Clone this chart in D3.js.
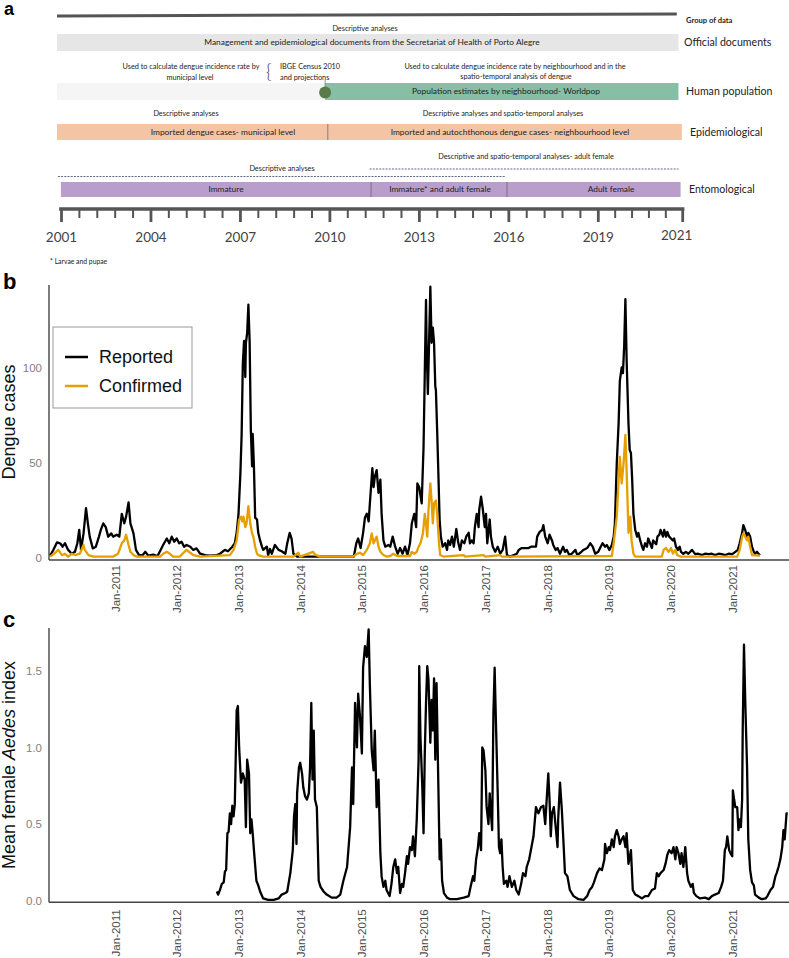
<!DOCTYPE html>
<html>
<head>
<meta charset="utf-8">
<script src="https://cdn.jsdelivr.net/npm/d3@7"></script>
<style>
  body { margin: 0; background: #fff; }
  svg { display: block; }
</style>
</head>
<body>
<div id="chart"></div>
<script>
// ---------- panel a: timeline of data sources ----------
const timelineYears = [2001, 2004, 2007, 2010, 2013, 2016, 2019, 2021];
const groupNames = ["Official documents", "Human population", "Epidemiological", "Entomological"];

// segments per row: [row, start year, end year, label]
const dataSegments = [
  [0, 2000.85, 2020.9, "Management and epidemiological documents from the Secretariat of Health of Porto Alegre"],
  [1, 2000.85, 2009.84, ""],
  [1, 2009.84, 2020.9, "Population estimates by neighbourhood- Worldpop"],
  [2, 2000.85, 2009.93, "Imported dengue cases- municipal level"],
  [2, 2009.93, 2020.98, "Imported and autochthonous dengue cases- neighbourhood level"],
  [3, 2000.98, 2011.38, "Immature"],
  [3, 2011.38, 2015.94, "Immature* and adult female"],
  [3, 2015.94, 2020.95, "Adult female"]
];
// analysis periods drawn as dashed lines: [start, end]
const analysisPeriods = [[2000.88, 2015.9], [2011.33, 2020.9]];
const censusYear = 2009.84;

// ---------- panel b: weekly dengue cases [decimal year, cases] ----------
const reportedCases = [[2009.95,1],[2010.00,4],[2010.06,8],[2010.11,7.5],[2010.15,5.7],[2010.19,7.5],[2010.24,4],[2010.30,2],[2010.35,3],[2010.39,7.5],[2010.42,14.5],[2010.45,4],[2010.49,12.7],[2010.53,26],[2010.56,18],[2010.59,11],[2010.64,4.8],[2010.69,5.7],[2010.74,11],[2010.77,14.5],[2010.81,18],[2010.85,16],[2010.89,11],[2010.94,12.7],[2010.97,11],[2011.03,12],[2011.07,11],[2011.11,23],[2011.15,18],[2011.18,21.5],[2011.22,29],[2011.25,18],[2011.30,12.7],[2011.34,4],[2011.39,1.3],[2011.45,1.3],[2011.49,3],[2011.54,1],[2011.62,1.5],[2011.69,0.8],[2011.74,4],[2011.78,6.6],[2011.84,10],[2011.88,7.5],[2011.92,11],[2011.96,8.3],[2012.00,10],[2012.04,7.5],[2012.08,8.3],[2012.12,5.7],[2012.16,6.6],[2012.22,5.7],[2012.27,4],[2012.32,4.8],[2012.38,2],[2012.46,1.3],[2012.54,1],[2012.65,1.3],[2012.70,2],[2012.78,4],[2012.83,3.3],[2012.90,5.7],[2012.94,7.5],[2012.97,13],[2013.00,23],[2013.03,44],[2013.05,64],[2013.07,102],[2013.09,114],[2013.11,95],[2013.12,113],[2013.14,118],[2013.16,133],[2013.18,114],[2013.20,67],[2013.22,48],[2013.23,65],[2013.25,48],[2013.27,21],[2013.30,20],[2013.32,13],[2013.35,9],[2013.38,5.7],[2013.40,4],[2013.46,5.7],[2013.48,1.3],[2013.51,4.5],[2013.54,2],[2013.59,6.6],[2013.65,4],[2013.70,3.3],[2013.76,2],[2013.79,7.5],[2013.83,13],[2013.86,10],[2013.89,2],[2013.95,0.5],[2014.87,0.5],[2014.91,7.5],[2014.94,10],[2014.98,5],[2015.02,13],[2015.05,21],[2015.08,23],[2015.11,19],[2015.13,28.5],[2015.17,47],[2015.19,37],[2015.21,42.5],[2015.24,46],[2015.27,34],[2015.30,41],[2015.32,23],[2015.35,9],[2015.38,5.7],[2015.43,6.6],[2015.46,5.7],[2015.50,11],[2015.54,5.7],[2015.58,2],[2015.62,5],[2015.66,2],[2015.70,5.7],[2015.74,1.3],[2015.78,7.5],[2015.81,18],[2015.85,23],[2015.88,16],[2015.90,39],[2015.93,37],[2015.97,28.5],[2016.00,58],[2016.02,97],[2016.04,135.5],[2016.05,111],[2016.07,86],[2016.09,114],[2016.11,142.5],[2016.13,113],[2016.15,121],[2016.17,113],[2016.19,90],[2016.20,88],[2016.22,67],[2016.24,44],[2016.26,20],[2016.28,11],[2016.31,5.7],[2016.35,7.5],[2016.38,4],[2016.40,9],[2016.43,6.6],[2016.46,11],[2016.49,5.7],[2016.53,15],[2016.56,8],[2016.59,4],[2016.62,9],[2016.66,7.5],[2016.69,11],[2016.73,13],[2016.75,7.5],[2016.78,9],[2016.81,7.5],[2016.83,16],[2016.86,23],[2016.89,16],[2016.90,25],[2016.93,32],[2016.96,25],[2016.99,16],[2017.01,23],[2017.03,7.5],[2017.07,20],[2017.09,11],[2017.12,5.7],[2017.16,3],[2017.20,5.7],[2017.24,2],[2017.28,4],[2017.32,11],[2017.35,1.3],[2017.40,0.5],[2017.46,1.3],[2017.51,2],[2017.54,4],[2017.59,5],[2017.65,5],[2017.70,5],[2017.74,5.7],[2017.78,5.7],[2017.82,5.7],[2017.84,11],[2017.88,13.5],[2017.92,14.5],[2017.94,17],[2017.97,11],[2018.01,7.5],[2018.04,12],[2018.08,9],[2018.10,6.6],[2018.14,4],[2018.17,5],[2018.21,2],[2018.26,5.7],[2018.29,3],[2018.32,4],[2018.36,1.3],[2018.40,2],[2018.46,4],[2018.49,1.3],[2018.54,2.5],[2018.59,4],[2018.65,5],[2018.70,7.5],[2018.74,5.7],[2018.78,2],[2018.83,3],[2018.87,5.7],[2018.90,7.5],[2018.94,5.7],[2018.97,6.6],[2019.01,4],[2019.05,6.6],[2019.08,11],[2019.10,18],[2019.13,49.5],[2019.16,70.6],[2019.18,93],[2019.21,100],[2019.23,97],[2019.25,111],[2019.27,136],[2019.29,104],[2019.32,70.6],[2019.34,56.6],[2019.36,55],[2019.38,41],[2019.40,23],[2019.43,14.5],[2019.46,11],[2019.48,13],[2019.51,9],[2019.54,5.7],[2019.56,4],[2019.59,7.5],[2019.62,5.7],[2019.64,10],[2019.67,7.5],[2019.70,5],[2019.72,9],[2019.77,7],[2019.79,11],[2019.82,12],[2019.84,14.5],[2019.88,11],[2019.90,14.5],[2019.93,11],[2019.95,13.5],[2019.98,11],[2020.01,10],[2020.04,9],[2020.06,10],[2020.09,5.7],[2020.12,4],[2020.15,5.7],[2020.17,3],[2020.21,2],[2020.25,3],[2020.29,2],[2020.35,4],[2020.40,1.8],[2020.45,2],[2020.51,1.3],[2020.56,2],[2020.62,1.8],[2020.67,2],[2020.72,1.3],[2020.78,2],[2020.83,1.8],[2020.89,1.3],[2020.94,2],[2021.00,1.8],[2021.05,3],[2021.09,4],[2021.12,7.5],[2021.16,13],[2021.18,17],[2021.21,14.5],[2021.24,11],[2021.26,13],[2021.29,11],[2021.32,5.7],[2021.35,3],[2021.37,2],[2021.40,3],[2021.43,1.8],[2021.45,1.3]];

const confirmedCases = [[2009.95,0.5],[2010.03,2.5],[2010.08,4],[2010.14,1.3],[2010.19,2],[2010.24,0.5],[2010.30,2],[2010.35,1.3],[2010.43,2],[2010.49,6.6],[2010.51,4],[2010.57,1.3],[2010.65,0.5],[2010.97,0.5],[2011.05,2],[2011.11,7.5],[2011.15,9],[2011.18,12],[2011.22,6.6],[2011.25,3],[2011.30,1.3],[2011.35,0.5],[2011.73,0.5],[2011.78,2],[2011.84,3],[2011.89,2],[2011.94,0.5],[2012.05,0.5],[2012.11,2.5],[2012.16,4],[2012.22,2.5],[2012.27,1.3],[2012.38,0.5],[2012.86,1.3],[2012.92,4],[2012.97,9],[2013.01,20],[2013.04,21.5],[2013.06,19],[2013.08,21.5],[2013.11,16],[2013.13,18],[2013.16,27],[2013.19,18],[2013.22,12.7],[2013.24,11],[2013.27,5.7],[2013.30,2],[2013.32,1.3],[2013.40,0.5],[2013.89,0.5],[2013.97,2.5],[2014.00,0.5],[2014.21,3],[2014.24,1.5],[2014.32,0.5],[2014.86,0.5],[2014.92,2],[2014.97,2.5],[2015.02,1.3],[2015.08,4],[2015.13,7.5],[2015.16,12.7],[2015.19,7.5],[2015.21,9],[2015.24,11],[2015.27,5.7],[2015.30,3],[2015.35,1.3],[2015.40,0.5],[2015.46,0.8],[2015.51,2],[2015.57,0.8],[2015.78,0.8],[2015.81,3],[2015.85,2],[2015.89,3],[2015.92,5.7],[2015.95,7.5],[2015.99,12.7],[2016.02,23],[2016.04,18],[2016.06,11],[2016.08,25],[2016.11,39],[2016.13,30],[2016.15,18],[2016.17,28.5],[2016.20,30],[2016.22,23],[2016.25,7.5],[2016.27,1.3],[2016.32,0.5],[2016.65,1.3],[2016.67,0.5],[2016.97,1.3],[2017.00,0.5],[2017.24,1.3],[2017.27,0.5],[2019.05,0.8],[2019.08,7.5],[2019.13,21.5],[2019.16,41],[2019.18,53],[2019.21,39],[2019.24,49.5],[2019.27,64.5],[2019.29,46],[2019.32,13],[2019.35,21.5],[2019.37,9],[2019.40,2],[2019.43,0.5],[2019.86,0.5],[2019.89,4],[2019.93,5],[2019.97,3],[2020.01,5],[2020.04,2],[2020.08,4],[2020.11,1.3],[2020.16,0.5],[2021.08,0.5],[2021.12,4],[2021.16,11],[2021.18,12.7],[2021.21,11],[2021.24,9],[2021.26,11],[2021.29,5.7],[2021.32,1.3],[2021.45,1]];

// ---------- panel c: mean female Aedes index [decimal year, index] ----------
const aedesIndex = [[2012.65,0.06],[2012.67,0.04],[2012.70,0.07],[2012.73,0.11],[2012.76,0.12],[2012.78,0.19],[2012.80,0.2],[2012.82,0.44],[2012.84,0.45],[2012.86,0.57],[2012.88,0.5],[2012.90,0.62],[2012.92,0.55],[2012.94,0.63],[2012.97,1.24],[2012.99,1.27],[2013.01,1.0],[2013.04,0.77],[2013.07,0.83],[2013.10,0.79],[2013.12,0.48],[2013.14,0.92],[2013.17,0.83],[2013.19,0.44],[2013.21,0.53],[2013.23,0.44],[2013.25,0.33],[2013.29,0.13],[2013.32,0.10],[2013.35,0.06],[2013.40,0.015],[2013.48,0.005],[2013.57,0.005],[2013.65,0.015],[2013.70,0.04],[2013.76,0.05],[2013.79,0.06],[2013.84,0.18],[2013.88,0.33],[2013.90,0.55],[2013.92,0.63],[2013.94,0.37],[2013.95,0.7],[2013.98,0.87],[2014.00,0.9],[2014.03,0.83],[2014.05,0.74],[2014.08,0.68],[2014.11,0.66],[2014.14,0.7],[2014.16,0.87],[2014.18,1.29],[2014.20,0.79],[2014.22,1.11],[2014.24,0.66],[2014.27,0.61],[2014.30,0.13],[2014.33,0.09],[2014.38,0.06],[2014.43,0.04],[2014.51,0.02],[2014.59,0.02],[2014.65,0.04],[2014.70,0.13],[2014.76,0.22],[2014.81,0.48],[2014.84,0.87],[2014.86,0.63],[2014.89,1.29],[2014.92,1.0],[2014.94,1.35],[2014.97,1.2],[2015.00,0.96],[2015.02,1.52],[2015.05,1.66],[2015.08,1.59],[2015.11,1.77],[2015.13,1.4],[2015.16,0.98],[2015.19,0.85],[2015.21,1.11],[2015.24,0.61],[2015.27,0.79],[2015.30,0.31],[2015.32,0.16],[2015.35,0.09],[2015.38,0.13],[2015.40,0.07],[2015.45,0.03],[2015.48,0.11],[2015.51,0.22],[2015.54,0.27],[2015.57,0.18],[2015.59,0.22],[2015.62,0.05],[2015.65,0.11],[2015.67,0.09],[2015.70,0.18],[2015.73,0.29],[2015.75,0.24],[2015.78,0.35],[2015.81,0.33],[2015.83,0.42],[2015.86,0.29],[2015.89,0.53],[2015.92,0.92],[2015.93,1.53],[2015.95,1.07],[2015.98,0.74],[2016.00,0.44],[2016.02,0.96],[2016.04,1.29],[2016.06,1.53],[2016.08,1.44],[2016.11,1.03],[2016.13,1.31],[2016.15,1.11],[2016.17,1.45],[2016.19,0.92],[2016.21,1.42],[2016.24,0.74],[2016.26,0.27],[2016.28,0.4],[2016.30,0.13],[2016.33,0.05],[2016.38,0.02],[2016.43,0.01],[2016.54,0.01],[2016.65,0.02],[2016.73,0.03],[2016.76,0.09],[2016.80,0.16],[2016.82,0.13],[2016.85,0.27],[2016.88,0.35],[2016.90,0.44],[2016.93,0.33],[2016.95,1.0],[2016.97,0.98],[2017.00,0.85],[2017.02,0.61],[2017.05,0.5],[2017.07,0.7],[2017.09,0.57],[2017.11,0.46],[2017.13,1.22],[2017.15,1.52],[2017.17,1.18],[2017.20,0.7],[2017.22,0.35],[2017.24,0.31],[2017.26,0.4],[2017.28,0.22],[2017.30,0.11],[2017.34,0.13],[2017.36,0.09],[2017.39,0.16],[2017.43,0.09],[2017.47,0.13],[2017.50,0.07],[2017.54,0.04],[2017.58,0.11],[2017.61,0.18],[2017.65,0.16],[2017.67,0.22],[2017.71,0.27],[2017.78,0.42],[2017.82,0.61],[2017.86,0.57],[2017.90,0.61],[2017.94,0.62],[2017.97,0.5],[2018.00,0.7],[2018.02,0.83],[2018.04,0.66],[2018.06,0.42],[2018.08,0.57],[2018.11,0.61],[2018.14,0.48],[2018.17,0.35],[2018.18,0.53],[2018.21,0.77],[2018.24,0.59],[2018.27,0.35],[2018.29,0.18],[2018.33,0.16],[2018.37,0.07],[2018.43,0.03],[2018.51,0.01],[2018.59,0.005],[2018.65,0.03],[2018.69,0.07],[2018.73,0.09],[2018.76,0.12],[2018.81,0.18],[2018.85,0.21],[2018.89,0.2],[2018.93,0.27],[2018.94,0.37],[2018.97,0.31],[2019.00,0.35],[2019.02,0.33],[2019.05,0.4],[2019.08,0.35],[2019.10,0.42],[2019.13,0.46],[2019.16,0.42],[2019.18,0.37],[2019.21,0.4],[2019.24,0.42],[2019.27,0.35],[2019.29,0.44],[2019.32,0.24],[2019.36,0.33],[2019.39,0.07],[2019.43,0.04],[2019.48,0.03],[2019.54,0.015],[2019.59,0.03],[2019.64,0.03],[2019.70,0.07],[2019.75,0.08],[2019.78,0.18],[2019.81,0.16],[2019.84,0.18],[2019.89,0.2],[2019.92,0.24],[2019.95,0.3],[2019.98,0.33],[2020.02,0.31],[2020.05,0.35],[2020.08,0.27],[2020.10,0.35],[2020.13,0.31],[2020.16,0.24],[2020.18,0.31],[2020.21,0.22],[2020.24,0.35],[2020.27,0.18],[2020.29,0.13],[2020.33,0.09],[2020.36,0.11],[2020.38,0.05],[2020.42,0.03],[2020.48,0.015],[2020.56,0.02],[2020.62,0.01],[2020.67,0.03],[2020.72,0.04],[2020.78,0.05],[2020.82,0.09],[2020.85,0.13],[2020.88,0.33],[2020.90,0.35],[2020.92,0.42],[2020.95,0.33],[2020.97,0.31],[2021.00,0.29],[2021.01,0.72],[2021.03,0.66],[2021.05,0.61],[2021.08,0.61],[2021.10,0.46],[2021.12,0.53],[2021.14,0.48],[2021.16,0.66],[2021.17,1.13],[2021.19,1.67],[2021.21,1.31],[2021.24,0.87],[2021.26,0.4],[2021.29,0.2],[2021.32,0.12],[2021.35,0.1],[2021.37,0.04],[2021.43,0.02],[2021.48,0.01],[2021.54,0.015],[2021.57,0.03],[2021.62,0.07],[2021.66,0.09],[2021.70,0.16],[2021.72,0.18],[2021.75,0.22],[2021.78,0.27],[2021.81,0.35],[2021.83,0.46],[2021.85,0.4],[2021.88,0.57],[2021.90,0.57]];

const casesTicks = [0, 50, 100];
const aedesTicks = [0, 0.5, 1.0, 1.5];
const monthTickYears = [2011, 2012, 2013, 2014, 2015, 2016, 2017, 2018, 2019, 2020, 2021];

const W = 789, H = 958;
const sans = "'Liberation Sans', Arial, sans-serif";
const lato = "Lato, 'Open Sans', sans-serif";

const svg = d3.select("#chart")
  .append("svg")
  .attr("width", W)
  .attr("height", H)
  .style("font-family", sans);

// ======== panel a ========
const gA = svg.append("g").style("font-family", lato);
const yearScale = d3.scaleLinear().domain([2001, 2019, 2021]).range([61.5, 598.3, 682.7]);

svg.append("text").attr("x", 4).attr("y", 15).attr("font-size", 18).attr("font-weight", "bold").text("a");

gA.append("line")
  .attr("x1", yearScale(2000.85)).attr("y1", 16)
  .attr("x2", yearScale(2020.86)).attr("y2", 14)
  .attr("stroke", "#555").attr("stroke-width", 3);

gA.append("text").attr("x", 686).attr("y", 23).attr("font-size", 7.6).attr("font-weight", "bold")
  .attr("fill", "#222").text("Group of data");

// row geometry
const rowTop = [34, 83, 124, 182];
const rowHeight = [17, 17, 16, 15];
const rowFill = ["#e6e6e6", "#86bfa5", "#f4c5a5", "#b99ecb"];
const segmentLabelX = [372, null, 506, 223, 510, 226, 440, 611];

gA.selectAll("rect.seg")
  .data(dataSegments)
  .join("rect")
  .attr("class", "seg")
  .attr("x", d => yearScale(d[1]))
  .attr("width", d => yearScale(d[2]) - yearScale(d[1]))
  .attr("y", d => rowTop[d[0]])
  .attr("height", d => rowHeight[d[0]])
  .attr("fill", (d, i) => (i === 1 ? "#f5f5f5" : rowFill[d[0]]));

// dividers inside epidemiological and entomological rows
gA.selectAll("line.div")
  .data(dataSegments.filter((d, i) => (d[0] >= 2) && i !== 3 && i !== 5))
  .join("line")
  .attr("class", "div")
  .attr("x1", d => yearScale(d[1])).attr("x2", d => yearScale(d[1]))
  .attr("y1", d => rowTop[d[0]]).attr("y2", d => rowTop[d[0]] + rowHeight[d[0]])
  .attr("stroke", "#666").attr("stroke-width", 0.8);

gA.selectAll("text.seg")
  .data(dataSegments.filter(d => d[3] !== ""))
  .join("text")
  .attr("class", "seg")
  .attr("x", d => segmentLabelX[dataSegments.indexOf(d)])
  .attr("y", d => rowTop[d[0]] + rowHeight[d[0]] / 2)
  .attr("dy", "0.35em")
  .attr("text-anchor", "middle")
  .attr("font-size", 8.4)
  .attr("fill", "#222")
  .text(d => d[3]);

// group labels
const groupLabelX = [684, 686, 690, 689];
gA.selectAll("text.group")
  .data(groupNames)
  .join("text")
  .attr("class", "group")
  .attr("x", (d, i) => groupLabelX[i])
  .attr("y", (d, i) => rowTop[i] + rowHeight[i] / 2)
  .attr("dy", "0.35em")
  .attr("font-size", 10.6)
  .attr("fill", "#222")
  .text(d => d);

// annotations
const notes = [
  ["Descriptive analyses", 365, 28, "middle"],
  ["Used to calculate dengue incidence rate  by", 191, 66, "middle"],
  ["municipal level", 190, 77, "middle"],
  ["IBGE Census 2010", 280, 66, "start"],
  ["and projections", 280, 77, "start"],
  ["Used to calculate dengue incidence rate  by neighbourhood and in the", 515, 66, "middle"],
  ["spatio-temporal  analysis of dengue", 516, 76, "middle"],
  ["Descriptive analyses", 186, 113, "middle"],
  ["Descriptive analyses and spatio-temporal analyses", 503, 113, "middle"],
  ["Descriptive and spatio-temporal analyses- adult female", 526, 156, "middle"],
  ["Descriptive analyses", 282, 168, "middle"]
];
gA.selectAll("text.note")
  .data(notes)
  .join("text")
  .attr("class", "note")
  .attr("x", d => d[1]).attr("y", d => d[2])
  .attr("dy", "0.35em")
  .attr("text-anchor", d => d[3])
  .attr("font-size", 7.3)
  .attr("fill", "#222")
  .text(d => d[0]);

gA.append("text").attr("x", 266).attr("y", 78).attr("font-size", 19).attr("font-weight", 300)
  .attr("fill", "#444").text("{");

gA.append("line")
  .attr("x1", yearScale(censusYear)).attr("x2", yearScale(censusYear))
  .attr("y1", 80).attr("y2", 88).attr("stroke", "#777").attr("stroke-width", 0.8);
gA.append("circle")
  .attr("cx", yearScale(censusYear)).attr("cy", 92.5).attr("r", 6)
  .attr("fill", "#5b7a4a");

const dashY = [176.5, 169];
gA.selectAll("line.dash")
  .data(analysisPeriods)
  .join("line")
  .attr("class", "dash")
  .attr("x1", d => yearScale(d[0])).attr("x2", d => yearScale(d[1]))
  .attr("y1", (d, i) => dashY[i]).attr("y2", (d, i) => dashY[i])
  .attr("stroke", "#4d5b72").attr("stroke-width", 0.9).attr("stroke-dasharray", "2,1.2");

// timeline axis
const minorTicks = [];
for (let i = 0; i < timelineYears.length - 1; i++) {
  const a = timelineYears[i], b = timelineYears[i + 1];
  for (let k = 1; k < 5; k++) minorTicks.push(a + (b - a) * k / 5);
}
gA.append("line")
  .attr("x1", yearScale(2000.92)).attr("x2", yearScale(2021.04))
  .attr("y1", 209).attr("y2", 209)
  .attr("stroke", "#555").attr("stroke-width", 3.5);
gA.selectAll("line.major")
  .data(timelineYears)
  .join("line")
  .attr("class", "major")
  .attr("x1", d => yearScale(d)).attr("x2", d => yearScale(d))
  .attr("y1", 209).attr("y2", 222)
  .attr("stroke", "#555").attr("stroke-width", 2.8);
gA.selectAll("line.minor")
  .data(minorTicks)
  .join("line")
  .attr("class", "minor")
  .attr("x1", d => yearScale(d)).attr("x2", d => yearScale(d))
  .attr("y1", 209).attr("y2", 218)
  .attr("stroke", "#555").attr("stroke-width", 2);
gA.selectAll("text.year")
  .data(timelineYears)
  .join("text")
  .attr("class", "year")
  .attr("x", d => yearScale(d) - (d === 2021 ? 6 : 0))
  .attr("y", d => (d === 2021 ? 235 : 237))
  .attr("dy", "0.35em")
  .attr("text-anchor", "middle")
  .attr("font-size", 13.5)
  .attr("fill", "#444")
  .text(d => d);

gA.append("text").attr("x", 50).attr("y", 262).attr("dy", "0.35em")
  .attr("font-size", 6.8).attr("fill", "#222").text("* Larvae and pupae");

// ======== panels b and c ========
const toDate = t => {
  const yr = Math.floor(t);
  const s = new Date(yr, 0, 1), e = new Date(yr + 1, 0, 1);
  return new Date(+s + (t - yr) * (e - s));
};
const xScale = d3.scaleTime().domain([toDate(2009.93), toDate(2021.92)]).range([49, 789]);
const tickDates = monthTickYears.map(y => new Date(y, 0, 1));

const drawPanel = (opts) => {
  const { yScale, ticks, tickFmt, top, bottom, label, labelY } = opts;
  const g = svg.append("g");

  const yAxis = g.append("g")
    .attr("transform", "translate(49,0)")
    .call(d3.axisLeft(yScale).tickValues(ticks).tickSize(0).tickPadding(7).tickFormat(tickFmt));
  yAxis.select(".domain").remove();
  yAxis.selectAll("text").attr("font-size", 11.5).attr("fill", "#7f7f7f").attr("font-family", sans);

  const xAxis = g.append("g")
    .attr("transform", `translate(0,${bottom})`)
    .call(d3.axisBottom(xScale).tickValues(tickDates).tickSize(0).tickFormat(d3.timeFormat("%b-%Y")));
  xAxis.select(".domain").remove();
  xAxis.selectAll("text")
    .attr("transform", "rotate(-90)")
    .attr("text-anchor", "end")
    .attr("x", -opts.xPad).attr("y", 0).attr("dy", "0.35em")
    .attr("font-size", 11.5).attr("fill", "#4d4d4d").attr("font-family", sans);

  g.append("line").attr("x1", 49).attr("x2", 49).attr("y1", top).attr("y2", bottom)
    .attr("stroke", "#444").attr("stroke-width", 1.4);
  g.append("line").attr("x1", 49).attr("x2", 789).attr("y1", bottom).attr("y2", bottom)
    .attr("stroke", "#444").attr("stroke-width", 1.4);

  svg.append("text").attr("x", 3).attr("y", labelY).attr("font-size", 22).attr("font-weight", "bold").text(label);
  return g;
};

// panel b
const yCases = d3.scaleLinear().domain([-1.3, 143.4]).range([560, 285]);
const gB = drawPanel({ yScale: yCases, ticks: casesTicks, tickFmt: d3.format("d"), top: 285, bottom: 560, label: "b", labelY: 289, xPad: 5 });

const lineB = d3.line()
  .x(d => xScale(toDate(d[0])))
  .y(d => yCases(d[1]));

gB.append("path").datum(reportedCases)
  .attr("fill", "none").attr("stroke", "#000").attr("stroke-width", 2.3)
  .attr("stroke-linejoin", "round").attr("d", lineB);
gB.append("path").datum(confirmedCases)
  .attr("fill", "none").attr("stroke", "#E69F00").attr("stroke-width", 2.3)
  .attr("stroke-linejoin", "round").attr("d", lineB);

svg.append("text")
  .attr("transform", "translate(15,422) rotate(-90)")
  .attr("text-anchor", "middle").attr("font-size", 18).attr("fill", "#111")
  .text("Dengue cases");

// legend
const legend = svg.append("g");
legend.append("rect").attr("x", 53).attr("y", 327).attr("width", 139).attr("height", 81)
  .attr("fill", "#fff").attr("stroke", "#999").attr("stroke-width", 1);
const legendItems = [["Reported", "#000"], ["Confirmed", "#E69F00"]];
legend.selectAll("g.item")
  .data(legendItems)
  .join("g")
  .attr("class", "item")
  .attr("transform", (d, i) => `translate(0,${357 + i * 29})`)
  .each(function (d) {
    const it = d3.select(this);
    it.append("line").attr("x1", 65).attr("x2", 88).attr("y1", 0).attr("y2", 0)
      .attr("stroke", d[1]).attr("stroke-width", 2.5);
    it.append("text").attr("x", 99).attr("y", 0).attr("dy", "0.35em")
      .attr("font-size", 18).attr("fill", "#111").text(d[0]);
  });

// panel c
const yAedes = d3.scaleLinear().domain([-0.0104, 1.779]).range([902.3, 628]);
const gC = drawPanel({ yScale: yAedes, ticks: aedesTicks, tickFmt: d3.format(".1f"), top: 628, bottom: 902.3, label: "c", labelY: 627, xPad: 7 });

gC.append("path").datum(aedesIndex)
  .attr("fill", "none").attr("stroke", "#000").attr("stroke-width", 2.3)
  .attr("stroke-linejoin", "round")
  .attr("d", d3.line().x(d => xScale(toDate(d[0]))).y(d => yAedes(d[1])));

const yTitleC = svg.append("text")
  .attr("transform", "translate(15,765) rotate(-90)")
  .attr("text-anchor", "middle").attr("font-size", 18).attr("fill", "#111");
yTitleC.append("tspan").text("Mean female ");
yTitleC.append("tspan").attr("font-style", "italic").text("Aedes");
yTitleC.append("tspan").text(" index");
</script>
</body>
</html>
